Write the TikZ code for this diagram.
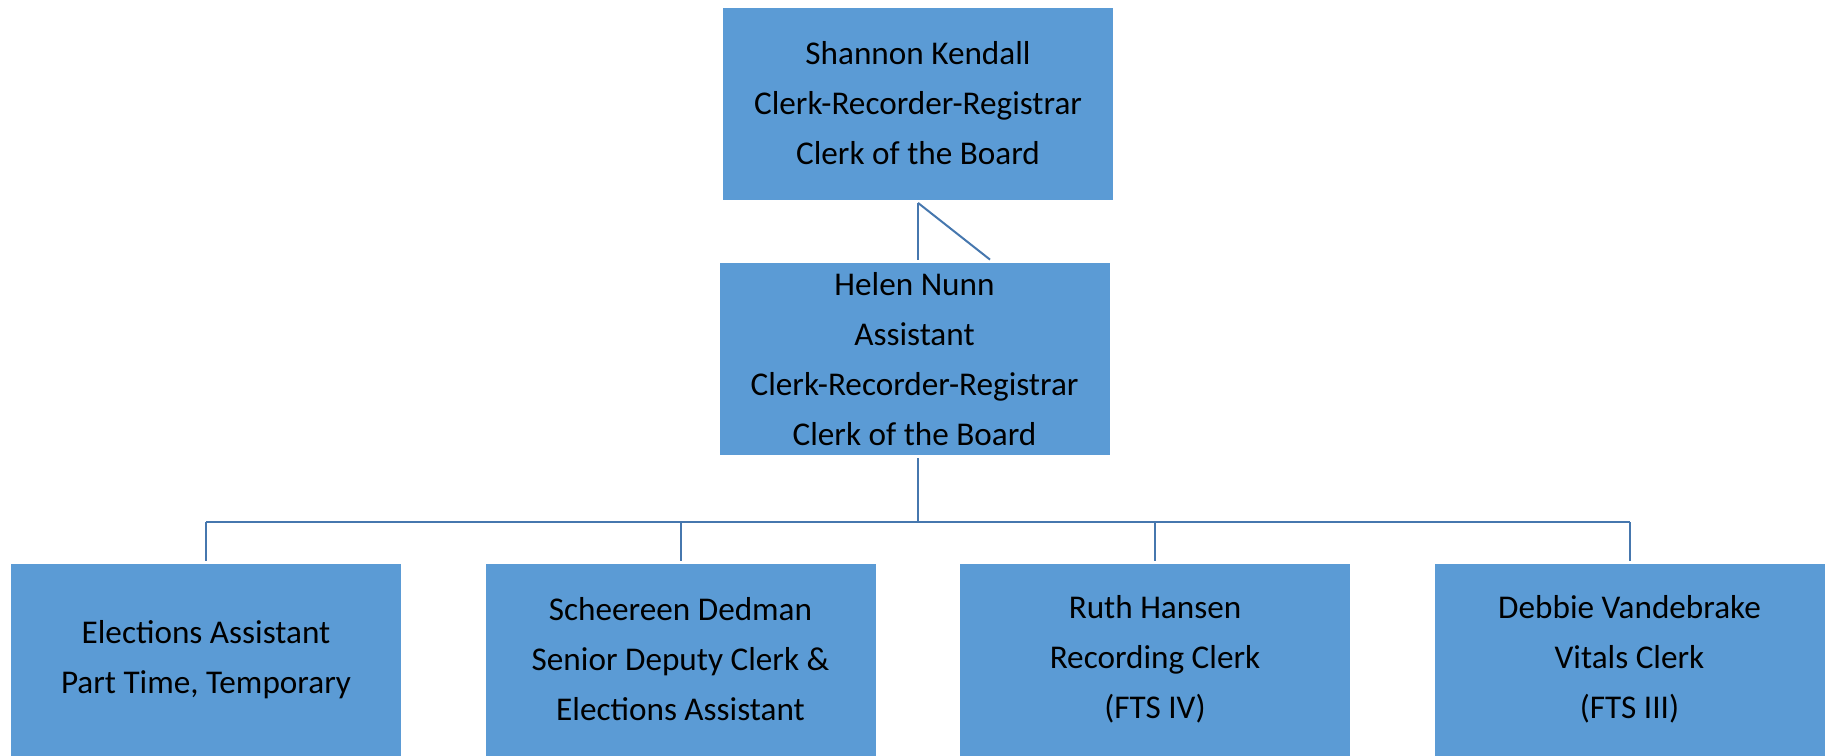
\documentclass[tikz,border=0pt]{standalone}
\usepackage{fontspec}
\setmainfont{Carlito}
\usepackage{tikz}

\definecolor{boxblue}{HTML}{5B9BD5}
\definecolor{lineblue}{HTML}{4677AE}

\tikzset{
  person/.style={fill=boxblue, inner sep=0pt, align=center,
    minimum width=195pt, minimum height=96pt,
    font=\fontsize{16.6pt}{25pt}\selectfont},
  link/.style={draw=lineblue, line width=1pt}
}

\begin{document}
\begin{tikzpicture}[x=0.5pt,y=-0.5pt]
    \useasboundingbox (0,0) rectangle (1831,755);
    \node[person] (head) at (918,103.5) {Shannon Kendall\\Clerk-Recorder-Registrar\\Clerk of the Board};
    \node[person] (asst) at (914.5,359) {Helen Nunn\\Assistant\\Clerk-Recorder-Registrar\\Clerk of the Board};
    \node[person] (elect) at (206,659.5) {Elections Assistant\\Part Time, Temporary};
    \node[person] (senior) at (680.5,659.5) {Scheereen Dedman\\Senior Deputy Clerk \&\\Elections Assistant};
    \node[person] (record) at (1155,659.5) {Ruth Hansen\\Recording Clerk\\(FTS IV)};
    \node[person] (vitals) at (1629.5,659.5) {Debbie Vandebrake\\Vitals Clerk\\(FTS III)};
    \coordinate (bus) at (918,522);
    % top to assistant
    \draw[link] ([yshift=-1.5pt]head.south) -- ([yshift=1.5pt]head.south |- asst.north);
    \draw[link] ([yshift=-1.5pt]head.south) -- ([xshift=36pt,yshift=1.5pt]head.south |- asst.north);
    % assistant to staff
    \draw[link] ([yshift=-1.5pt]head.south |- asst.south) -- (bus);
    \draw[link] (bus -| elect.north) -- (bus -| vitals.north);
    \draw[link] (bus -| elect.north) -- ([yshift=1pt]elect.north);
    \draw[link] (bus -| senior.north) -- ([yshift=1pt]senior.north);
    \draw[link] (bus -| record.north) -- ([yshift=1pt]record.north);
    \draw[link] (bus -| vitals.north) -- ([yshift=1pt]vitals.north);
\end{tikzpicture}
\end{document}
